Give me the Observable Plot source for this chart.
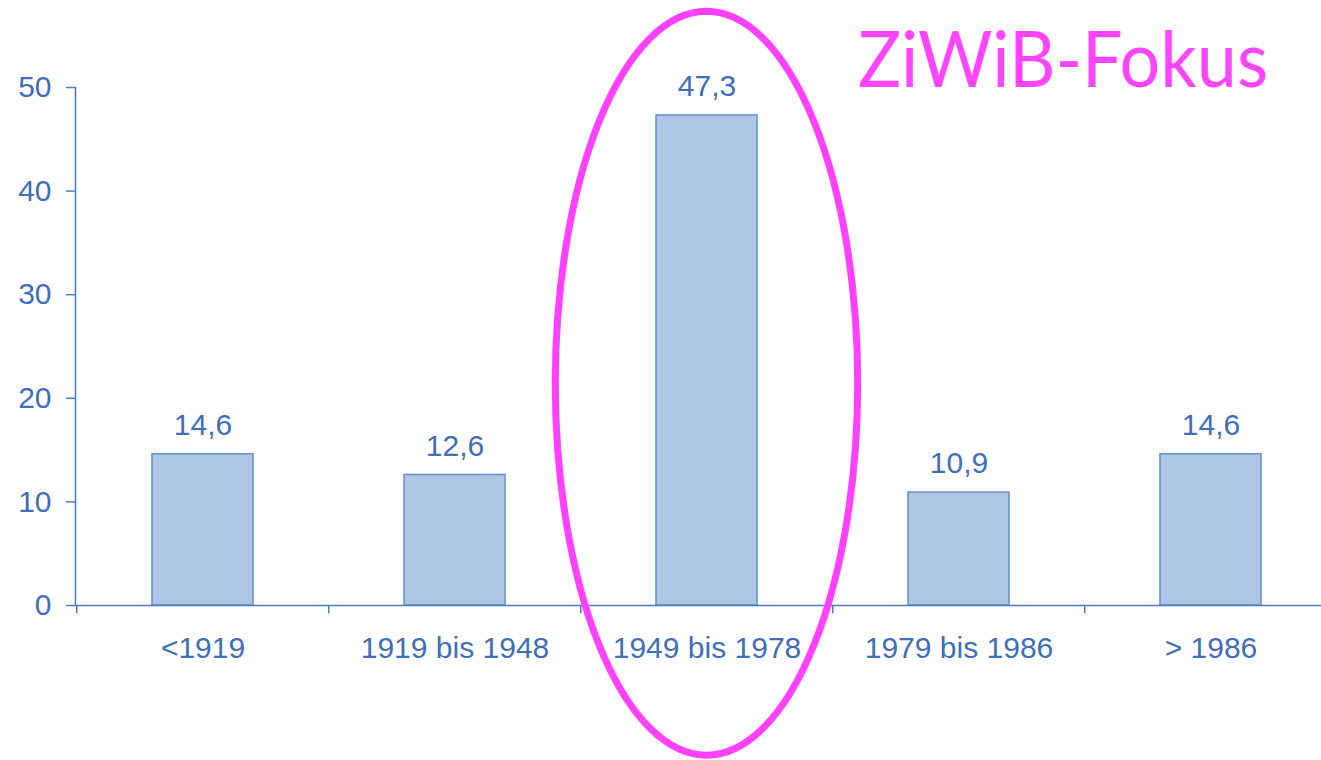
<!DOCTYPE html>
<html>
<head>
<meta charset="utf-8">
<script src="https://cdn.jsdelivr.net/npm/d3@7"></script>
<script src="https://cdn.jsdelivr.net/npm/@observablehq/plot@0.6"></script>
<style>
  html, body { margin: 0; padding: 0; background: #fff; }
  #chart { position: relative; width: 1321px; height: 760px; overflow: hidden; }
</style>
</head>
<body>
<div id="chart"></div>
<script>
const categories = ["<1919", "1919 bis 1948", "1949 bis 1978", "1979 bis 1986", "> 1986"];
const values = [14.6, 12.6, 47.3, 10.9, 14.6];
const yTicks = [0, 10, 20, 30, 40, 50];
const titleText = "ZiWiB-Fokus";
const focusCategory = "1949 bis 1978";

const data = categories.map((c, i) => ({category: c, value: values[i]}));
const blueText = "#3f6fb8";
const blueAxis = "#4a7bc6";
const fmt = v => String(v).replace(".", ",");

const plot = Plot.plot({
  width: 1321,
  height: 760,
  marginLeft: 75,
  marginRight: 0,
  marginTop: 87,
  marginBottom: 155,
  style: {fontFamily: "'Liberation Sans', Arial, sans-serif", color: blueText, background: "#fff"},
  x: {domain: categories, range: [75, 1337.5], paddingInner: 0.6, paddingOuter: 0.3, label: null},
  y: {domain: [0, 50], label: null},
  marks: [
    Plot.barY(data, {x: "category", y: "value", fill: "#aec5e3", stroke: "#6b93cd", strokeWidth: 1.6}),
    Plot.ruleY([0], {stroke: blueAxis, strokeWidth: 1.5}),
    Plot.ruleX(categories, {x: d => d, dx: -126.25, y1: 0, y2: -0.8, stroke: blueAxis, strokeWidth: 1.5}),
    Plot.frame({anchor: "left", stroke: blueAxis, strokeWidth: 1.5}),
    Plot.axisY({ticks: yTicks, tickSize: 9, tickPadding: 15, fontSize: 30, stroke: blueAxis, strokeWidth: 1.5, label: null}),
    Plot.axisX({tickSize: 0, tickPadding: 31, fontSize: 30, label: null}),
    Plot.text(data, {x: "category", y: "value", text: d => fmt(d.value), dy: -29, fontSize: 30, fill: blueText})
  ]
});

document.getElementById("chart").appendChild(plot);

// Ellipse annotation around the focus category, positioned through the plot's scales
const xs = plot.scale("x");
const ys = plot.scale("y");
const cx = xs.apply(focusCategory) + xs.bandwidth / 2;
const cy = ys.apply(21.4);
const rx = 0.6 * xs.step;
const ry = ys.apply(0) - ys.apply(35.9);
const svg = d3.select(plot);
svg.append("ellipse")
  .attr("cx", cx).attr("cy", cy).attr("rx", rx).attr("ry", ry)
  .attr("fill", "none").attr("stroke", "#ff40ff").attr("stroke-width", 7);

svg.append("text")
  .attr("x", 858).attr("y", 87)
  .attr("text-anchor", "start")
  .attr("fill", "#ff44ff")
  .attr("font-family", "Lato, 'Open Sans', sans-serif")
  .attr("font-size", 78)
  .attr("textLength", 410)
  .attr("lengthAdjust", "spacingAndGlyphs")
  .text(titleText);
</script>
</body>
</html>
